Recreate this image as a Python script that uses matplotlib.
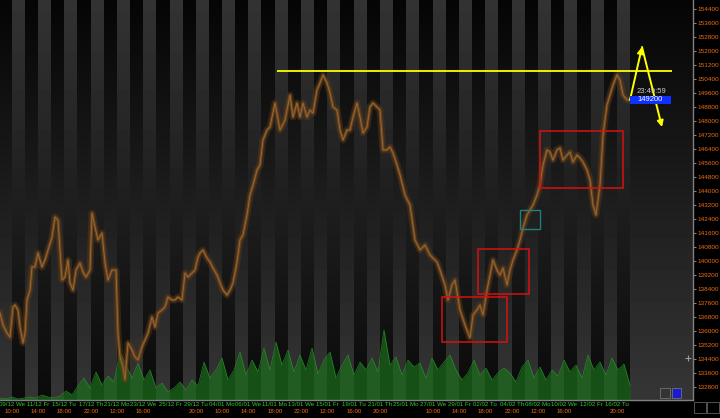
import matplotlib.pyplot as plt
import numpy as np
from matplotlib.patches import Rectangle
from matplotlib.transforms import blended_transform_factory

FIG_W, FIG_H, DPI = 7.2, 4.18, 100
FONT = ['Liberation Sans', 'DejaVu Sans']

# time axis: bar numbers (one bar per screen column)
tick_bars = [12, 38, 64, 91, 117, 143, 170, 196, 222, 248, 275, 301,
             327, 354, 380, 406, 433, 459, 485, 512, 538, 564, 591, 617]
tick_dates = ["09/12 We", "11/12 Fr", "15/12 Tu", "17/12 Th", "21/12 Mo", "23/12 We",
              "25/12 Fr", "29/12 Tu", "04/01 Mo", "06/01 We", "11/01 Mo", "13/01 We",
              "15/01 Fr", "19/01 Tu", "21/01 Th", "25/01 Mo", "27/01 We", "29/01 Fr",
              "02/02 Tu", "04/02 Th", "08/02 Mo", "10/02 We", "12/02 Fr", "16/02 Tu"]
tick_times = ["10:00", "14:00", "18:00", "22:00", "12:00", "16:00", "", "20:00",
              "10:00", "14:00", "18:00", "22:00", "12:00", "16:00", "20:00", "",
              "10:00", "14:00", "18:00", "22:00", "12:00", "16:00", "", "20:00"]
session_len = 13
bar_range = (0, 693)
price_range = (132040, 154915)
price_ticks = list(range(132800, 154401, 800))

price_bars = [0, 3, 7, 10, 13, 15, 18, 20, 23, 25, 27, 30, 32, 35, 38, 42, 45, 48, 52, 55,
              58, 60, 62, 65, 68, 70, 73, 76, 80, 83, 86, 90, 92, 95, 98, 102, 105, 108, 112, 116,
              118, 120, 123, 125, 128, 132, 135, 138, 142, 145, 148, 152, 155, 158, 162, 165, 168, 172, 175, 178,
              182, 185, 188, 192, 195, 198, 200, 203, 207, 210, 213, 217, 220, 223, 227, 230, 233, 237, 240, 243,
              247, 250, 253, 257, 260, 263, 267, 270, 275, 280, 285, 290, 293, 297, 300, 303, 307, 310, 313, 317,
              320, 323, 327, 330, 333, 337, 340, 343, 347, 350, 353, 357, 360, 363, 367, 370, 373, 377, 380, 383,
              387, 390, 393, 397, 400, 405, 410, 415, 420, 425, 430, 437, 440, 445, 448, 452, 455, 460, 465, 470,
              473, 477, 480, 483, 487, 490, 493, 497, 500, 503, 507, 510, 513, 517, 520, 523, 527, 530, 533, 537,
              540, 543, 547, 550, 553, 557, 560, 563, 567, 570, 573, 577, 580, 583, 587, 590, 593, 596, 600, 603,
              607, 610, 613, 617, 620, 623, 627, 630]
prices = [137010, 136330, 135870, 135640, 137360, 137470, 137190, 136210, 135300, 135870,
          137760, 138330, 139650, 139650, 140450, 139650, 140050, 140620, 141360, 142500,
          142330, 140620, 138900, 139070, 140050, 138730, 138330, 139470, 139870, 139360,
          139070, 139470, 142730, 141930, 141190, 141590, 139870, 138900, 139470, 139470,
          135870, 134500, 133930, 133180, 135300, 134900, 134500, 134330, 135070, 135470,
          135870, 136790, 136210, 137010, 137190, 137360, 137930, 137760, 137760, 137930,
          137760, 139300, 139070, 139300, 139470, 140220, 140450, 140620, 140160, 139930,
          139590, 139190, 138730, 138330, 138040, 138330, 138730, 139930, 141190, 141480,
          142620, 143760, 144330, 145190, 145480, 146910, 147480, 147650, 149020, 147480,
          148050, 149480, 148220, 149020, 148220, 149020, 148220, 148620, 148450, 149770,
          150170, 150630, 150170, 149600, 148800, 148620, 147480, 146910, 147480, 147480,
          148220, 149020, 148220, 147310, 147650, 148800, 149020, 148800, 148620, 146340,
          146340, 146510, 146170, 145480, 144910, 143760, 143190, 141190, 140620, 140900,
          140330, 139930, 139470, 138620, 137760, 138620, 138900, 137190, 136330, 135590,
          136900, 137190, 137470, 136900, 138330, 139190, 140050, 139470, 139190, 139590,
          138620, 139470, 140050, 140620, 141190, 141880, 142620, 142910, 143190, 143760,
          144330, 145480, 146340, 146220, 145760, 146340, 146450, 145760, 146050, 146220,
          145650, 146050, 145880, 145650, 145190, 144620, 143190, 142620, 144330, 147190,
          148910, 149480, 150050, 150630, 150340, 149480, 149200, 149200]

vol_step = 6
volume = [2, 1, 3, 1, 2, 3, 2, 5, 3, 2,
          4, 9, 5, 14, 22, 12, 28, 15, 24, 18,
          48, 35, 22, 37, 20, 30, 12, 17, 8, 12,
          18, 10, 20, 14, 38, 22, 30, 42, 20, 30,
          48, 25, 40, 28, 52, 30, 58, 35, 50, 28,
          45, 30, 52, 26, 40, 48, 22, 35, 45, 25,
          38, 30, 42, 28, 70, 35, 43, 25, 40, 33,
          37, 22, 42, 30, 38, 45, 30, 20, 27, 40,
          25, 32, 20, 27, 32, 27, 18, 33, 40, 22,
          33, 20, 30, 24, 40, 28, 35, 22, 45, 30,
          38, 25, 42, 30, 36, 15]
volume_max = 400

# drawings on the chart: (bar_left, bar_right, price_low, price_high)
red_boxes = [(442, 507, 135360, 137930), (478, 529, 138100, 140680), (540, 623, 144160, 147420)]
teal_boxes = [(520, 540, 141820, 142910)]
resistance = (277, 672, 150860)
arrow_path = [(630, 149200), (642, 152230), (662, 147650)]
last_price = 149200
last_time = "23:49:59"

fig = plt.figure(figsize=(FIG_W, FIG_H), dpi=DPI, facecolor='black')
rect = [0, 18 / 418, 693 / 720, 400 / 418]

# bottom layer: session shading + volume
vax = fig.add_axes(rect)
vax.set_xlim(*bar_range)
vax.set_ylim(0, volume_max)
vax.axis('off')
cols = np.arange(bar_range[0], bar_range[1]) + 0.5
in_session = np.zeros(cols.size, dtype=bool)
for t in tick_bars:
    in_session |= (cols >= t) & (cols < t + session_len)
frac = np.linspace(0, 1, 200)[:, None]
shade = np.where(in_session[None, :], 0.20 - 0.16 * frac, 0.02 + 0.19 * frac)
vax.imshow(shade, cmap='gray', vmin=0, vmax=1, aspect='auto', origin='upper',
           extent=(bar_range[0], bar_range[1], 0, volume_max),
           interpolation='nearest', zorder=0)
vbars = np.arange(len(volume)) * vol_step
vax.fill_between(vbars, 0, volume, color='#1b6e1b', alpha=0.7, lw=0, zorder=1)
vax.plot(vbars, volume, color='#2a9a2a', lw=0.5, alpha=0.8, zorder=2)

# top layer: price
ax = fig.add_axes(rect)
ax.patch.set_visible(False)
ax.set_xlim(*bar_range)
ax.set_ylim(*price_range)

ax.plot(price_bars, prices, color='#5a3a18', lw=5, alpha=0.45, zorder=3)
ax.plot(price_bars, prices, color='#6b461f', lw=2.2, alpha=0.9, zorder=3)
ax.plot(price_bars, prices, color='#a06a35', lw=0.6, zorder=4)

# drawing tools
for x0, x1, lo, hi in red_boxes:
    ax.add_patch(Rectangle((x0, lo), x1 - x0, hi - lo, fill=False, ec='#d81010', lw=1.1, zorder=5))
for x0, x1, lo, hi in teal_boxes:
    ax.add_patch(Rectangle((x0, lo), x1 - x0, hi - lo, fill=False, ec='#208080', lw=1.0, zorder=5))
ax.hlines(resistance[2], resistance[0], resistance[1], color='#ffff00', lw=1.3, zorder=6)
for p0, p1 in zip(arrow_path[:-1], arrow_path[1:]):
    ax.annotate("", xy=p1, xytext=p0, zorder=7,
                arrowprops=dict(arrowstyle='-|>', color='#ffff00', lw=1.4,
                                mutation_scale=9, shrinkA=0, shrinkB=0))

# last price tag
ax.add_patch(Rectangle((630, 148970), 41, 460, fc='#1030ff', ec='none', zorder=8))
ax.text(650.5, last_price, str(last_price), color='white', fontsize=5.5, family=FONT,
        ha='center', va='center', zorder=9)
ax.text(651, 149680, last_time, color='#c8c8c8', fontsize=5.5, family=FONT,
        ha='center', va='center', zorder=9)
ax.plot([688], [134440], marker='+', ms=5, color='#9a9a9a', mew=0.8, zorder=9)

# axes styling
for side in ['top', 'left']:
    ax.spines[side].set_visible(False)
for side in ['bottom', 'right']:
    ax.spines[side].set_color('#808080')
    ax.spines[side].set_linewidth(1.0)
ax.yaxis.tick_right()
ax.set_yticks(price_ticks)
ax.set_yticklabels([str(p) for p in price_ticks], family=FONT)
ax.tick_params(axis='y', colors='#808080', labelcolor='#ee6e14', labelsize=4.6,
               length=2, width=0.8, pad=1)
ax.set_xticks([])

trans = blended_transform_factory(ax.transData, ax.transAxes)
for bar, d, t in zip(tick_bars, tick_dates, tick_times):
    ax.text(bar, -4.8 / 400, d, transform=trans, color='#2fd02f', fontsize=4.4,
            family=FONT, ha='center', va='center', clip_on=False)
    if t:
        ax.text(bar, -11.8 / 400, t, transform=trans, color='#ee6e14', fontsize=4.4,
                family=FONT, ha='center', va='center', clip_on=False)

# corner widgets
fig.patches.append(Rectangle((660 / 720, 1 - 398 / 418), 10 / 720, 10 / 418, transform=fig.transFigure,
                             fill=False, ec='#707070', lw=0.6))
fig.patches.append(Rectangle((672 / 720, 1 - 398 / 418), 9 / 720, 10 / 418, transform=fig.transFigure,
                             fc='#1a1ad0', ec='#707070', lw=0.6))
fig.patches.append(Rectangle((694 / 720, 1 - 413 / 418), 12 / 720, 11 / 418, transform=fig.transFigure,
                             fill=False, ec='#606060', lw=0.6))
fig.patches.append(Rectangle((707 / 720, 1 - 413 / 418), 12 / 720, 11 / 418, transform=fig.transFigure,
                             fill=False, ec='#606060', lw=0.6))

fig.savefig("out.png", dpi=DPI, facecolor='black')
